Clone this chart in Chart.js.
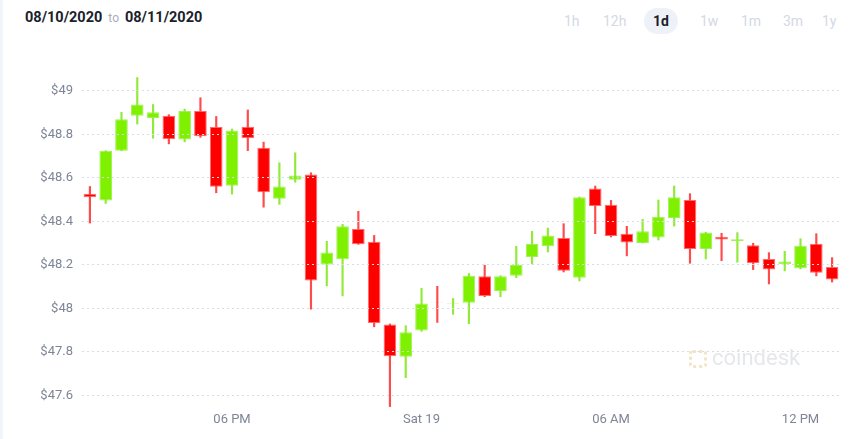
<!DOCTYPE html>
<html>
<head>
<meta charset="utf-8">
<script src="https://cdn.jsdelivr.net/npm/chart.js@4/dist/chart.umd.min.js"></script>
<style>
  html, body { margin: 0; padding: 0; background: #fff; }
  #wrap { position: relative; width: 866px; height: 439px; overflow: hidden; border-left: 3px solid #f1f4f9; box-sizing: border-box; font-family: Roboto, "Noto Sans", sans-serif; }
  #range { position: absolute; left: 22px; top: 9px; font-size: 14.5px; font-weight: 700; color: #1b1e2b; }
  #range .to { font-size: 12px; font-weight: 400; color: #a7aebd; margin: 0 6px; }
  #btns { position: absolute; top: 8px; right: 0; }
  #btns span { position: absolute; top: 0; height: 26px; line-height: 26px; font-size: 14px; color: #d3d9e4; }
  #btns span.on { color: #1b1e2b; font-weight: 700; background: #eef2f8; border-radius: 13px; padding: 0 9px; }
  #mark { position: absolute; left: 686px; top: 345px; color: #e6e7ea; font-size: 22px; }
  #mark i { display: inline-block; width: 18px; height: 18px; border: 3px dotted #f2e4c4; border-radius: 4px; box-sizing: border-box; vertical-align: -3px; margin-right: 5px; }
  canvas { position: absolute; left: -3px; top: 0; }
</style>
</head>
<body>
<div id="wrap">
  <div id="range">08/10/2020<span class="to">to</span>08/11/2020</div>
  <div id="btns">
    <span style="left:-302px">1h</span>
    <span style="left:-263px">12h</span>
    <span class="on" style="left:-222px">1d</span>
    <span style="left:-166px">1w</span>
    <span style="left:-125px">1m</span>
    <span style="left:-83px">3m</span>
    <span style="left:-44px">1y</span>
  </div>
  <canvas id="Grafico" width="866" height="439"></canvas>
  <div id="mark"><i></i>coindesk</div>
</div>
<script>
// velas de 30 minutos
const times = ['13:30','14:00','14:30','15:00','15:30','16:00','16:30','17:00','17:30','18:00',
  '18:30','19:00','19:30','20:00','20:30','21:00','21:30','22:00','22:30','23:00','23:30',
  '00:00','00:30','01:00','01:30','02:00','02:30','03:00','03:30','04:00','04:30','05:00','05:30',
  '06:00','06:30','07:00','07:30','08:00','08:30','09:00','09:30','10:00','10:30','11:00','11:30',
  '12:00','12:30','13:00'];
const opens = [48.527,48.496,48.724,48.885,48.875,48.885,48.776,48.907,48.834,48.563,
  48.835,48.738,48.504,48.591,48.615,48.201,48.225,48.365,48.306,47.926,47.777,
  47.898,48.026,48.022,48.025,48.147,48.079,48.150,48.236,48.285,48.323,48.140,48.551,
  48.476,48.343,48.300,48.325,48.415,48.498,48.273,48.329,48.309,48.290,48.227,48.202,
  48.184,48.297,48.190];
const highs = [48.560,48.725,48.901,49.061,48.937,48.890,48.916,48.968,48.882,48.824,
  48.912,48.764,48.669,48.715,48.623,48.308,48.386,48.446,48.335,47.928,47.920,
  48.092,48.101,48.045,48.160,48.198,48.150,48.285,48.354,48.369,48.389,48.512,48.562,
  48.496,48.377,48.409,48.498,48.562,48.527,48.350,48.345,48.348,48.299,48.256,48.262,
  48.320,48.343,48.233];
const lows = [48.392,48.482,48.724,48.847,48.782,48.756,48.765,48.786,48.531,48.525,
  48.725,48.465,48.478,48.580,47.996,48.103,48.057,48.294,47.915,47.548,47.681,
  47.894,47.935,47.972,47.929,48.053,48.053,48.141,48.204,48.259,48.167,48.126,48.343,
  48.328,48.241,48.300,48.314,48.378,48.207,48.227,48.219,48.212,48.178,48.112,48.172,
  48.181,48.149,48.121];
const closes = [48.510,48.724,48.869,48.937,48.901,48.777,48.907,48.791,48.559,48.817,
  48.782,48.533,48.560,48.611,48.128,48.257,48.377,48.294,47.932,47.780,47.890,
  48.022,48.024,48.024,48.150,48.057,48.147,48.199,48.296,48.335,48.173,48.510,48.470,
  48.332,48.302,48.354,48.421,48.510,48.273,48.348,48.316,48.317,48.207,48.178,48.215,
  48.288,48.163,48.132];
const xTickLabels = { '18:00': '06 PM', '00:00': 'Sat 19', '06:00': '06 AM', '12:00': '12 PM' };
const yTicks = [47.6, 47.8, 48, 48.2, 48.4, 48.6, 48.8, 49];

const verde = '#7ef000', vermelho = '#ff0000';
const subiu = opens.map((o, i) => closes[i] >= o);
const corpo = opens.map((o, i) => [Math.min(o, closes[i]), Math.max(o, closes[i])]);
const pavio = lows.map((l, i) => [l, highs[i]]);

const ctx = document.getElementById('Grafico').getContext('2d');
new Chart(ctx, {
  type: 'bar',
  data: {
    labels: times,
    datasets: [{
      label: 'Corpo',
      data: corpo,
      grouped: false,
      order: 1,
      backgroundColor: subiu.map(s => s ? verde : vermelho),
      borderColor: subiu.map(s => s ? 'rgba(150,240,70,0.9)' : 'rgba(255,90,90,0.9)'),
      borderWidth: 1,
      borderSkipped: false,
      categoryPercentage: 1,
      barPercentage: 0.8
    }, {
      label: 'Pavio',
      data: pavio,
      grouped: false,
      order: 2,
      backgroundColor: subiu.map(s => s ? 'rgba(126,230,20,0.85)' : 'rgba(255,30,30,0.8)'),
      barThickness: 1.5
    }]
  },
  options: {
    responsive: false,
    animation: false,
    layout: { padding: { top: 60, left: 10, right: 26, bottom: 13 } },
    plugins: { legend: { display: false }, tooltip: { enabled: false } },
    scales: {
      x: {
        afterFit: s => { s.height = 18; },
        grid: { display: false, drawTicks: false },
        border: { display: false },
        ticks: {
          autoSkip: false,
          maxRotation: 0,
          padding: 4,
          color: '#7d8596',
          font: { family: 'Roboto', size: 13 },
          callback: function (v, i) { return xTickLabels[times[i]] || ''; }
        }
      },
      y: {
        min: 47.5416,
        max: 49.1416,
        afterFit: s => { s.width = 72; },
        afterBuildTicks: s => { s.ticks = yTicks.map(v => ({ value: v })); },
        grid: { color: '#d6dcea', z: 1, drawTicks: false },
        border: { display: false, dash: [2, 3] },
        ticks: {
          padding: 9,
          color: '#7d8596',
          font: { family: 'Roboto', size: 13 },
          callback: v => '$' + v
        }
      }
    }
  }
});
</script>
</body>
</html>
